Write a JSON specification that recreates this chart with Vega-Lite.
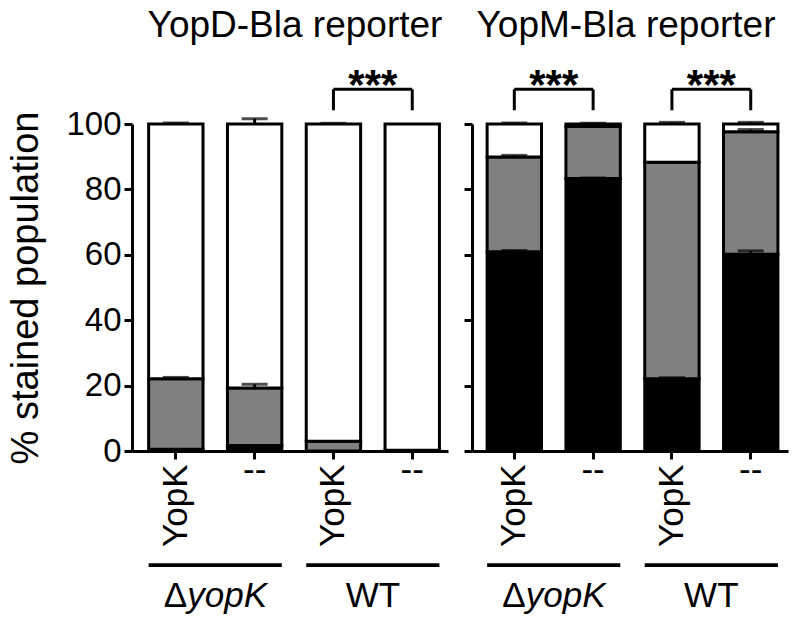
{
  "$schema": "https://vega.github.io/schema/vega-lite/v6.json",
  "background": "white",
  "padding": {"left": 7, "top": 7, "right": 5, "bottom": 5},
  "spacing": 14,
  "config": {
    "font": "Liberation Sans",
    "view": {"stroke": null},
    "axis": {"grid": false, "domainColor": "black", "tickColor": "black", "labelColor": "black", "titleColor": "black", "labelFont": "Liberation Sans", "titleFont": "Liberation Sans", "titleFontWeight": "normal", "domainWidth": 3, "tickWidth": 3, "tickSize": 8},
    "text": {"font": "Liberation Sans", "color": "black"},
    "title": {"font": "Liberation Sans", "fontWeight": "normal", "color": "black"}
  },
  "datasets": {
    "bars": [
      {"reporter": "YopD", "bar": "ΔyopK|YopK", "stain": "black", "pct": 0.5},
      {"reporter": "YopD", "bar": "ΔyopK|YopK", "stain": "gray", "pct": 21.6},
      {"reporter": "YopD", "bar": "ΔyopK|YopK", "stain": "white", "pct": 77.9},
      {"reporter": "YopD", "bar": "ΔyopK|--", "stain": "black", "pct": 1.7},
      {"reporter": "YopD", "bar": "ΔyopK|--", "stain": "gray", "pct": 17.6},
      {"reporter": "YopD", "bar": "ΔyopK|--", "stain": "white", "pct": 80.7},
      {"reporter": "YopD", "bar": "WT|YopK", "stain": "black", "pct": 0},
      {"reporter": "YopD", "bar": "WT|YopK", "stain": "gray", "pct": 3.0},
      {"reporter": "YopD", "bar": "WT|YopK", "stain": "white", "pct": 97.0},
      {"reporter": "YopD", "bar": "WT|--", "stain": "black", "pct": 0},
      {"reporter": "YopD", "bar": "WT|--", "stain": "gray", "pct": 0.2},
      {"reporter": "YopD", "bar": "WT|--", "stain": "white", "pct": 99.8},
      {"reporter": "YopM", "bar": "ΔyopK|YopK", "stain": "black", "pct": 60.9},
      {"reporter": "YopM", "bar": "ΔyopK|YopK", "stain": "gray", "pct": 29.0},
      {"reporter": "YopM", "bar": "ΔyopK|YopK", "stain": "white", "pct": 10.1},
      {"reporter": "YopM", "bar": "ΔyopK|--", "stain": "black", "pct": 83.3},
      {"reporter": "YopM", "bar": "ΔyopK|--", "stain": "gray", "pct": 15.9},
      {"reporter": "YopM", "bar": "ΔyopK|--", "stain": "white", "pct": 0.8},
      {"reporter": "YopM", "bar": "WT|YopK", "stain": "black", "pct": 22.1},
      {"reporter": "YopM", "bar": "WT|YopK", "stain": "gray", "pct": 66.2},
      {"reporter": "YopM", "bar": "WT|YopK", "stain": "white", "pct": 11.7},
      {"reporter": "YopM", "bar": "WT|--", "stain": "black", "pct": 60.2},
      {"reporter": "YopM", "bar": "WT|--", "stain": "gray", "pct": 37.4},
      {"reporter": "YopM", "bar": "WT|--", "stain": "white", "pct": 2.4}
    ],
    "errs": [
      {"reporter": "YopD", "bar": "ΔyopK|YopK", "top": 22.1, "upper": 22.5},
      {"reporter": "YopD", "bar": "ΔyopK|YopK", "top": 100, "upper": 100.3},
      {"reporter": "YopD", "bar": "ΔyopK|--", "top": 19.3, "upper": 20.4},
      {"reporter": "YopD", "bar": "ΔyopK|--", "top": 100, "upper": 101.6},
      {"reporter": "YopD", "bar": "WT|YopK", "top": 100, "upper": 100.2},
      {"reporter": "YopM", "bar": "ΔyopK|YopK", "top": 60.9, "upper": 61.3},
      {"reporter": "YopM", "bar": "ΔyopK|YopK", "top": 89.9, "upper": 90.4},
      {"reporter": "YopM", "bar": "ΔyopK|YopK", "top": 100, "upper": 100.3},
      {"reporter": "YopM", "bar": "ΔyopK|--", "top": 83.3, "upper": 83.5},
      {"reporter": "YopM", "bar": "ΔyopK|--", "top": 100, "upper": 100.2},
      {"reporter": "YopM", "bar": "WT|YopK", "top": 22.1, "upper": 22.4},
      {"reporter": "YopM", "bar": "WT|YopK", "top": 100, "upper": 100.5},
      {"reporter": "YopM", "bar": "WT|--", "top": 60.2, "upper": 61.2},
      {"reporter": "YopM", "bar": "WT|--", "top": 97.6, "upper": 98.3},
      {"reporter": "YopM", "bar": "WT|--", "top": 100, "upper": 100.5}
    ],
    "sig": [
      {"reporter": "YopD", "strain": "WT", "from": "WT|YopK", "to": "WT|--", "label": "***"},
      {"reporter": "YopM", "strain": "ΔyopK", "from": "ΔyopK|YopK", "to": "ΔyopK|--", "label": "***"},
      {"reporter": "YopM", "strain": "WT", "from": "WT|YopK", "to": "WT|--", "label": "***"}
    ],
    "groups": [
      {"reporter": "YopD", "strain": "ΔyopK"},
      {"reporter": "YopD", "strain": "WT"},
      {"reporter": "YopM", "strain": "ΔyopK"},
      {"reporter": "YopM", "strain": "WT"}
    ]
  },
  "hconcat": [
    {
      "width": 316,
      "height": 327,
      "title": {"text": "YopD-Bla reporter", "baseline": "alphabetic", "offset": -9, "dx": 5, "fontSize": 37, "anchor": "middle"},
      "layer": [
        {
          "layer": [
            {
              "data": {"name": "bars"},
              "transform": [{"filter": "datum.reporter == 'YopD'"}],
              "mark": {"type": "bar", "stroke": "black", "strokeWidth": 3},
              "encoding": {
                "x": {"field": "bar", "type": "nominal", "scale": {"domain": ["ΔyopK|YopK", "ΔyopK|--", "WT|YopK", "WT|--"], "paddingInner": 0.31, "paddingOuter": 0.16, "align": 0.66}, "axis": {"title": null, "orient": "bottom", "labelAngle": 270, "labelFontSize": 35, "labelPadding": 5, "labelExpr": "split(datum.value, '|')[1] == 'YopK' ? 'YopK' : ''"}},
                "y": {"field": "pct", "type": "quantitative", "stack": "zero", "scale": {"domain": [0, 100], "nice": false}, "axis": {"orient": "left", "title": "% stained population", "titleFontSize": 38, "titlePadding": 20, "labelFontSize": 33, "labelPadding": 3, "values": [0, 20, 40, 60, 80, 100]}},
                "color": {"field": "stain", "type": "nominal", "scale": {"domain": ["black", "gray", "white"], "range": ["#000000", "#808080", "#ffffff"]}, "legend": null},
                "order": {"field": "stain", "sort": "ascending"}
              }
            },
            {
              "data": {"name": "errs"},
              "transform": [{"filter": "datum.reporter == 'YopD'"}],
              "mark": {"type": "rule", "strokeWidth": 3, "color": "black"},
              "encoding": {
                "x": {"field": "bar", "type": "nominal", "axis": {"title": null, "orient": "bottom", "domain": false, "ticks": false, "labelAngle": 0, "labelAlign": "center", "labelBaseline": "middle", "labelFontSize": 35, "labelPadding": 18, "labelExpr": "split(datum.value, '|')[1] == '--' ? '--' : ''"}},
                "y": {"field": "top", "type": "quantitative", "axis": {"orient": "left", "title": "% stained population", "titleFontSize": 38, "titlePadding": 20, "labelFontSize": 33, "labelPadding": 3, "values": [0, 20, 40, 60, 80, 100]}},
                "y2": {"field": "upper"}
              }
            },
            {
              "data": {"name": "errs"},
              "transform": [{"filter": "datum.reporter == 'YopD'"}],
              "mark": {"type": "tick", "size": 26, "thickness": 3, "color": "black"},
              "encoding": {
                "x": {"field": "bar", "type": "nominal", "axis": null},
                "y": {"field": "upper", "type": "quantitative", "axis": {"orient": "left", "title": "% stained population", "titleFontSize": 38, "titlePadding": 20, "labelFontSize": 33, "labelPadding": 3, "values": [0, 20, 40, 60, 80, 100]}}
              }
            },
            {
              "data": {"name": "sig"},
              "transform": [{"filter": "datum.reporter == 'YopD'"}],
              "mark": {"type": "rule", "strokeWidth": 3, "color": "black"},
              "encoding": {
                "x": {"field": "from", "type": "nominal", "axis": null},
                "x2": {"field": "to"},
                "y": {"datum": 110.6, "type": "quantitative", "axis": {"orient": "left", "title": "% stained population", "titleFontSize": 38, "titlePadding": 20, "labelFontSize": 33, "labelPadding": 3, "values": [0, 20, 40, 60, 80, 100]}}
              }
            },
            {
              "data": {"name": "sig"},
              "transform": [{"filter": "datum.reporter == 'YopD'"}, {"fold": ["from", "to"], "as": ["end", "bar"]}],
              "mark": {"type": "rule", "strokeWidth": 3, "color": "black"},
              "encoding": {
                "x": {"field": "bar", "type": "nominal", "axis": null},
                "y": {"datum": 104.2, "type": "quantitative", "axis": {"orient": "left", "title": "% stained population", "titleFontSize": 38, "titlePadding": 20, "labelFontSize": 33, "labelPadding": 3, "values": [0, 20, 40, 60, 80, 100]}},
                "y2": {"datum": 110.6}
              }
            }
          ],
          "resolve": {"axis": {"x": "independent"}}
        },
        {
          "layer": [
            {
              "data": {"name": "groups"},
              "transform": [{"filter": "datum.reporter == 'YopD'"}],
              "mark": {"type": "bar", "color": "black"},
              "encoding": {
                "x": {"field": "strain", "type": "nominal", "scale": {"domain": ["ΔyopK", "WT"], "paddingInner": 0.155, "paddingOuter": 0.08, "align": 0.66}, "axis": null},
                "y": {"datum": -34.3, "type": "quantitative", "axis": {"orient": "left", "title": "% stained population", "titleFontSize": 38, "titlePadding": 20, "labelFontSize": 33, "labelPadding": 3, "values": [0, 20, 40, 60, 80, 100]}},
                "y2": {"datum": -35.5}
              }
            },
            {
              "data": {"name": "groups"},
              "transform": [{"filter": "datum.reporter == 'YopD' && datum.strain == 'ΔyopK'"}],
              "mark": {"type": "text", "text": "Δ", "align": "right", "dx": -28, "fontSize": 35, "baseline": "alphabetic"},
              "encoding": {
                "x": {"field": "strain", "type": "nominal", "axis": null},
                "y": {"datum": -47.8, "type": "quantitative", "axis": {"orient": "left", "title": "% stained population", "titleFontSize": 38, "titlePadding": 20, "labelFontSize": 33, "labelPadding": 3, "values": [0, 20, 40, 60, 80, 100]}}
              }
            },
            {
              "data": {"name": "groups"},
              "transform": [{"filter": "datum.reporter == 'YopD' && datum.strain == 'ΔyopK'"}],
              "mark": {"type": "text", "text": "yopK", "align": "left", "dx": -28, "fontSize": 35, "fontStyle": "italic", "baseline": "alphabetic"},
              "encoding": {
                "x": {"field": "strain", "type": "nominal", "axis": null},
                "y": {"datum": -47.8, "type": "quantitative", "axis": {"orient": "left", "title": "% stained population", "titleFontSize": 38, "titlePadding": 20, "labelFontSize": 33, "labelPadding": 3, "values": [0, 20, 40, 60, 80, 100]}}
              }
            },
            {
              "data": {"name": "groups"},
              "transform": [{"filter": "datum.reporter == 'YopD' && datum.strain == 'WT'"}],
              "mark": {"type": "text", "align": "center", "fontSize": 35, "baseline": "alphabetic"},
              "encoding": {
                "x": {"field": "strain", "type": "nominal", "axis": null},
                "y": {"datum": -47.8, "type": "quantitative", "axis": {"orient": "left", "title": "% stained population", "titleFontSize": 38, "titlePadding": 20, "labelFontSize": 33, "labelPadding": 3, "values": [0, 20, 40, 60, 80, 100]}},
                "text": {"field": "strain"}
              }
            },
            {
              "data": {"name": "sig"},
              "transform": [{"filter": "datum.reporter == 'YopD'"}],
              "mark": {"type": "text", "align": "center", "fontSize": 42, "fontWeight": "bold", "baseline": "alphabetic"},
              "encoding": {
                "x": {"field": "strain", "type": "nominal", "axis": null},
                "y": {"datum": 107.5, "type": "quantitative", "axis": {"orient": "left", "title": "% stained population", "titleFontSize": 38, "titlePadding": 20, "labelFontSize": 33, "labelPadding": 3, "values": [0, 20, 40, 60, 80, 100]}},
                "text": {"field": "label"}
              }
            }
          ]
        }
      ],
      "resolve": {"scale": {"x": "independent"}}
    },
    {
      "width": 316,
      "height": 327,
      "title": {"text": "YopM-Bla reporter", "baseline": "alphabetic", "offset": -9, "dx": -4, "fontSize": 37, "anchor": "middle"},
      "layer": [
        {
          "layer": [
            {
              "data": {"name": "bars"},
              "transform": [{"filter": "datum.reporter == 'YopM'"}],
              "mark": {"type": "bar", "stroke": "black", "strokeWidth": 3},
              "encoding": {
                "x": {"field": "bar", "type": "nominal", "scale": {"domain": ["ΔyopK|YopK", "ΔyopK|--", "WT|YopK", "WT|--"], "paddingInner": 0.31, "paddingOuter": 0.16, "align": 0.6}, "axis": {"title": null, "orient": "bottom", "labelAngle": 270, "labelFontSize": 35, "labelPadding": 5, "labelExpr": "split(datum.value, '|')[1] == 'YopK' ? 'YopK' : ''"}},
                "y": {"field": "pct", "type": "quantitative", "stack": "zero", "scale": {"domain": [0, 100], "nice": false}, "axis": {"orient": "left", "title": null, "labels": false, "values": [0, 20, 40, 60, 80, 100]}},
                "color": {"field": "stain", "type": "nominal", "scale": {"domain": ["black", "gray", "white"], "range": ["#000000", "#808080", "#ffffff"]}, "legend": null},
                "order": {"field": "stain", "sort": "ascending"}
              }
            },
            {
              "data": {"name": "errs"},
              "transform": [{"filter": "datum.reporter == 'YopM'"}],
              "mark": {"type": "rule", "strokeWidth": 3, "color": "black"},
              "encoding": {
                "x": {"field": "bar", "type": "nominal", "axis": {"title": null, "orient": "bottom", "domain": false, "ticks": false, "labelAngle": 0, "labelAlign": "center", "labelBaseline": "middle", "labelFontSize": 35, "labelPadding": 18, "labelExpr": "split(datum.value, '|')[1] == '--' ? '--' : ''"}},
                "y": {"field": "top", "type": "quantitative", "axis": {"orient": "left", "title": null, "labels": false, "values": [0, 20, 40, 60, 80, 100]}},
                "y2": {"field": "upper"}
              }
            },
            {
              "data": {"name": "errs"},
              "transform": [{"filter": "datum.reporter == 'YopM'"}],
              "mark": {"type": "tick", "size": 26, "thickness": 3, "color": "black"},
              "encoding": {
                "x": {"field": "bar", "type": "nominal", "axis": null},
                "y": {"field": "upper", "type": "quantitative", "axis": {"orient": "left", "title": null, "labels": false, "values": [0, 20, 40, 60, 80, 100]}}
              }
            },
            {
              "data": {"name": "sig"},
              "transform": [{"filter": "datum.reporter == 'YopM'"}],
              "mark": {"type": "rule", "strokeWidth": 3, "color": "black"},
              "encoding": {
                "x": {"field": "from", "type": "nominal", "axis": null},
                "x2": {"field": "to"},
                "y": {"datum": 110.6, "type": "quantitative", "axis": {"orient": "left", "title": null, "labels": false, "values": [0, 20, 40, 60, 80, 100]}}
              }
            },
            {
              "data": {"name": "sig"},
              "transform": [{"filter": "datum.reporter == 'YopM'"}, {"fold": ["from", "to"], "as": ["end", "bar"]}],
              "mark": {"type": "rule", "strokeWidth": 3, "color": "black"},
              "encoding": {
                "x": {"field": "bar", "type": "nominal", "axis": null},
                "y": {"datum": 104.2, "type": "quantitative", "axis": {"orient": "left", "title": null, "labels": false, "values": [0, 20, 40, 60, 80, 100]}},
                "y2": {"datum": 110.6}
              }
            }
          ],
          "resolve": {"axis": {"x": "independent"}}
        },
        {
          "layer": [
            {
              "data": {"name": "groups"},
              "transform": [{"filter": "datum.reporter == 'YopM'"}],
              "mark": {"type": "bar", "color": "black"},
              "encoding": {
                "x": {"field": "strain", "type": "nominal", "scale": {"domain": ["ΔyopK", "WT"], "paddingInner": 0.155, "paddingOuter": 0.08, "align": 0.6}, "axis": null},
                "y": {"datum": -34.3, "type": "quantitative", "axis": {"orient": "left", "title": null, "labels": false, "values": [0, 20, 40, 60, 80, 100]}},
                "y2": {"datum": -35.5}
              }
            },
            {
              "data": {"name": "groups"},
              "transform": [{"filter": "datum.reporter == 'YopM' && datum.strain == 'ΔyopK'"}],
              "mark": {"type": "text", "text": "Δ", "align": "right", "dx": -28, "fontSize": 35, "baseline": "alphabetic"},
              "encoding": {
                "x": {"field": "strain", "type": "nominal", "axis": null},
                "y": {"datum": -47.8, "type": "quantitative", "axis": {"orient": "left", "title": null, "labels": false, "values": [0, 20, 40, 60, 80, 100]}}
              }
            },
            {
              "data": {"name": "groups"},
              "transform": [{"filter": "datum.reporter == 'YopM' && datum.strain == 'ΔyopK'"}],
              "mark": {"type": "text", "text": "yopK", "align": "left", "dx": -28, "fontSize": 35, "fontStyle": "italic", "baseline": "alphabetic"},
              "encoding": {
                "x": {"field": "strain", "type": "nominal", "axis": null},
                "y": {"datum": -47.8, "type": "quantitative", "axis": {"orient": "left", "title": null, "labels": false, "values": [0, 20, 40, 60, 80, 100]}}
              }
            },
            {
              "data": {"name": "groups"},
              "transform": [{"filter": "datum.reporter == 'YopM' && datum.strain == 'WT'"}],
              "mark": {"type": "text", "align": "center", "fontSize": 35, "baseline": "alphabetic"},
              "encoding": {
                "x": {"field": "strain", "type": "nominal", "axis": null},
                "y": {"datum": -47.8, "type": "quantitative", "axis": {"orient": "left", "title": null, "labels": false, "values": [0, 20, 40, 60, 80, 100]}},
                "text": {"field": "strain"}
              }
            },
            {
              "data": {"name": "sig"},
              "transform": [{"filter": "datum.reporter == 'YopM'"}],
              "mark": {"type": "text", "align": "center", "fontSize": 42, "fontWeight": "bold", "baseline": "alphabetic"},
              "encoding": {
                "x": {"field": "strain", "type": "nominal", "axis": null},
                "y": {"datum": 107.5, "type": "quantitative", "axis": {"orient": "left", "title": null, "labels": false, "values": [0, 20, 40, 60, 80, 100]}},
                "text": {"field": "label"}
              }
            }
          ]
        }
      ],
      "resolve": {"scale": {"x": "independent"}}
    }
  ]
}
